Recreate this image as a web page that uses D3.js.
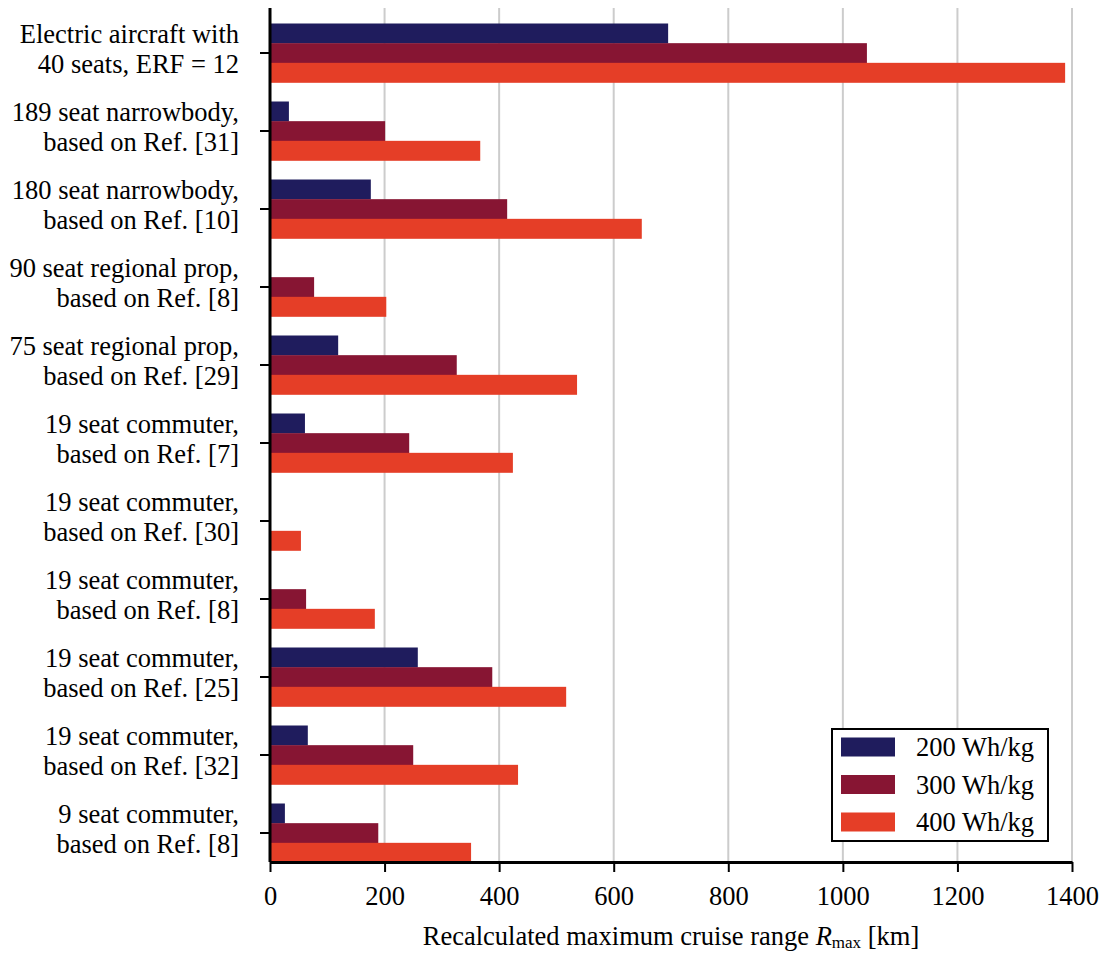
<!DOCTYPE html>
<html><head><meta charset="utf-8">
<script src="https://cdn.jsdelivr.net/npm/d3@7"></script>
<style>body{margin:0;background:#fff}svg{display:block}</style>
</head><body>
<svg id="c" width="1099" height="953"></svg>
<script>
const categories = [
  "Electric aircraft with\n40 seats, ERF = 12",
  "189 seat narrowbody,\nbased on Ref. [31]",
  "180 seat narrowbody,\nbased on Ref. [10]",
  "90 seat regional prop,\nbased on Ref. [8]",
  "75 seat regional prop,\nbased on Ref. [29]",
  "19 seat commuter,\nbased on Ref. [7]",
  "19 seat commuter,\nbased on Ref. [30]",
  "19 seat commuter,\nbased on Ref. [8]",
  "19 seat commuter,\nbased on Ref. [25]",
  "19 seat commuter,\nbased on Ref. [32]",
  "9 seat commuter,\nbased on Ref. [8]"
];
const seriesNames = ["200 Wh/kg", "300 Wh/kg", "400 Wh/kg"];
const wh200 = [695, 33, 176, null, 119, 61, null, null, 258, 66, 26];
const wh300 = [1042, 201, 414, 77, 326, 243, null, 63, 388, 250, 189];
const wh400 = [1388, 367, 649, 203, 536, 424, 54, 183, 517, 433, 351];
const xTicks = [0, 200, 400, 600, 800, 1000, 1200, 1400];
const colors = ["#1f1c5d", "#871533", "#e53e27"];

(function () {
const series = [wh200, wh300, wh400];
const svg = d3.select("#c");
const FONT = "'Liberation Serif', 'Times New Roman', serif";
const FS = 26.5;
const mLeft = 270, mRight = 1072, mTop = 8, mBottom = 862;

const x = d3.scaleLinear().domain([0, 1400]).range([mLeft, mRight]);
const y = d3.scaleBand().domain(categories).range([14, 872]).paddingInner(0.2436).paddingOuter(0.1218);
const ySub = d3.scaleBand().domain([0,1,2]).range([0, y.bandwidth()]);

// gridlines
svg.append("g").selectAll("line").data(xTicks.filter(d => d > 0)).join("line")
  .attr("x1", d => x(d)).attr("x2", d => x(d))
  .attr("y1", mTop).attr("y2", mBottom)
  .attr("stroke", "#cccccc").attr("stroke-width", 2);

// bars
const rows = [];
categories.forEach((c, i) => series.forEach((s, j) => { if (s[i] != null) rows.push({c, j, v: s[i]}); }));
svg.append("g").selectAll("rect").data(rows).join("rect")
  .attr("x", x(0))
  .attr("y", d => y(d.c) + ySub(d.j))
  .attr("width", d => x(d.v) - x(0))
  .attr("height", ySub.bandwidth() + 0.3)
  .attr("fill", d => colors[d.j]);

// x axis
const xAxis = svg.append("g").attr("transform", `translate(0,${mBottom})`)
  .call(d3.axisBottom(x).tickValues(xTicks).tickFormat(d3.format("d")).tickSize(10).tickSizeOuter(0).tickPadding(14.5));
xAxis.select(".domain").attr("stroke", "#000").attr("stroke-width", 3);
xAxis.selectAll(".tick line").attr("stroke", "#000").attr("stroke-width", 2);
xAxis.selectAll(".tick text").attr("font-family", FONT).attr("font-size", FS).attr("fill", "#000");

// y axis
const yAxis = svg.append("g").attr("transform", `translate(${mLeft},0)`)
  .call(d3.axisLeft(y).tickSize(10).tickSizeOuter(0).tickFormat(""));
yAxis.select(".domain").attr("d", `M0,${mTop}V${mBottom}`).attr("stroke", "#000").attr("stroke-width", 3);
yAxis.selectAll(".tick line").attr("stroke", "#000").attr("stroke-width", 2);

// y labels
const lab = svg.append("g");
categories.forEach(c => {
  const cy = y(c) + y.bandwidth() / 2;
  const lines = c.split("\n");
  const t = lab.append("text").attr("font-family", FONT).attr("font-size", FS)
    .attr("text-anchor", "end").attr("fill", "#000");
  lines.forEach((ln, k) => {
    t.append("tspan").attr("x", 239).attr("y", cy - 10 + k * 29.5).text(ln);
  });
});

// x axis label
const xl = svg.append("text").attr("x", (mLeft + mRight) / 2).attr("y", 945)
  .attr("text-anchor", "middle").attr("font-family", FONT).attr("font-size", FS).attr("fill", "#000");
xl.append("tspan").text("Recalculated maximum cruise range ");
xl.append("tspan").attr("font-style", "italic").text("R");
xl.append("tspan").attr("font-size", 17).attr("dy", 3).text("max");
xl.append("tspan").attr("dy", -3).text(" [km]");

// legend
const lg = svg.append("g");
lg.append("rect").attr("x", 832).attr("y", 729).attr("width", 216).attr("height", 112)
  .attr("fill", "#fff").attr("stroke", "#000").attr("stroke-width", 2);
seriesNames.forEach((n, j) => {
  const cy = 747 + j * 37.5;
  lg.append("rect").attr("x", 841).attr("y", cy - 9.5).attr("width", 54).attr("height", 19).attr("fill", colors[j]);
  lg.append("text").attr("x", 916).attr("y", cy + 9)
    .attr("font-family", FONT).attr("font-size", FS).attr("fill", "#000").text(n);
});
})();
</script>
</body></html>
